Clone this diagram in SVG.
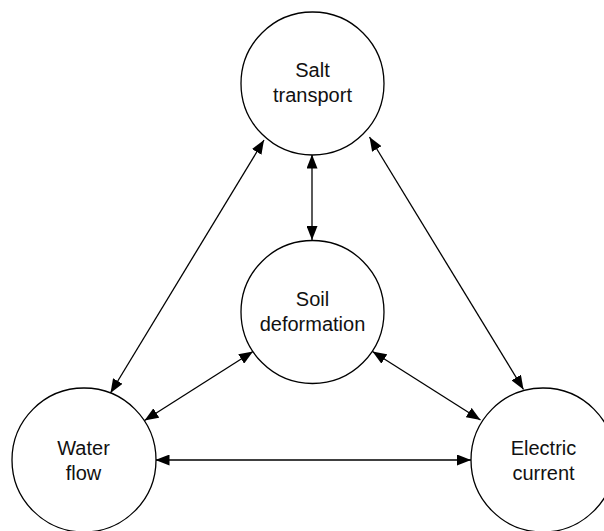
<svg xmlns="http://www.w3.org/2000/svg" width="604" height="531" viewBox="0 0 604 531">
  <style>
    .node circle { fill: #ffffff; stroke: #000000; stroke-width: 1.3; }
    .node text { font-family: "Liberation Sans", Arial, sans-serif; font-size: 20px; fill: #111111; text-anchor: middle; }
    .link { stroke: #000000; stroke-width: 1.3; fill: none; marker-start: url(#head); marker-end: url(#head); }
  </style>
  <defs>
    <!-- filled triangular arrowhead, used at both ends of every link -->
    <marker id="head" viewBox="0 0 14 11" refX="14" refY="5.5" markerWidth="14" markerHeight="11" markerUnits="userSpaceOnUse" orient="auto-start-reverse">
      <path d="M0,0 L14,5.5 L0,11 Z" fill="#000000"/>
    </marker>
  </defs>

  <rect width="604" height="531" fill="#ffffff"/>

  <g id="connectors">
    <line class="link" x1="312" y1="154.5" x2="312" y2="240"/>
    <line class="link" x1="264" y1="140" x2="110.5" y2="393"/>
    <line class="link" x1="369.5" y1="137" x2="523.5" y2="389.5"/>
    <line class="link" x1="253" y1="351.5" x2="144.5" y2="420.5"/>
    <line class="link" x1="372.5" y1="351.5" x2="480.5" y2="420"/>
    <line class="link" x1="155.5" y1="460" x2="471" y2="460"/>
  </g>

  <g id="salt-transport" class="node">
    <circle cx="312.5" cy="83.5" r="71.5"/>
    <text x="312.5" y="77">Salt</text>
    <text x="312.5" y="102">transport</text>
  </g>

  <g id="soil-deformation" class="node">
    <circle cx="312.5" cy="312" r="71.5"/>
    <text x="312.5" y="306">Soil</text>
    <text x="312.5" y="331">deformation</text>
  </g>

  <g id="water-flow" class="node">
    <circle cx="84" cy="460" r="72"/>
    <text x="83.5" y="455">Water</text>
    <text x="83.5" y="480">flow</text>
  </g>

  <g id="electric-current" class="node">
    <circle cx="543" cy="460" r="72"/>
    <text x="543.5" y="455">Electric</text>
    <text x="543.5" y="480">current</text>
  </g>
</svg>
